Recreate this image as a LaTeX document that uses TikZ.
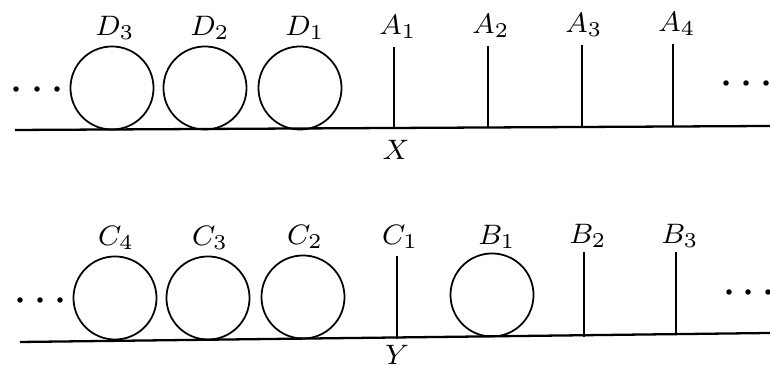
\documentclass[tikz,border=0pt]{standalone}
\begin{document}
\begin{tikzpicture}[x=0.01cm,y=-0.01cm,
  ball/.style={circle,draw,line width=0.5pt,minimum size=0.83cm,inner sep=0pt},
  stick/.style={line width=0.65pt},
  floor/.style={line width=0.65pt},
  lbl/.style={font=\fontsize{8}{9}\selectfont,inner sep=0pt},
  dot/.style={circle,fill,inner sep=0pt,minimum size=0.055cm}]
\useasboundingbox (0,0) rectangle (770,365);
% ---------- top row ----------
\coordinate (xl) at (15,130);
\coordinate (xr) at (770,126);
\draw[floor] (xl) -- (xr);
\node[ball] (d3) at (112,88) {};
\node[ball] (d2) at (205,88) {};
\node[ball] (d1) at (300,88) {};
\node[lbl] (ld3) at (115,28) {$D_3$};
\node[lbl] (ld2) at (210,28) {$D_2$};
\node[lbl] (ld1) at (305,28) {$D_1$};
\coordinate (a1t) at (394,47); \coordinate (a1b) at (394,129);
\coordinate (a2t) at (488,46); \coordinate (a2b) at (488,128);
\coordinate (a3t) at (582,45); \coordinate (a3b) at (582,127);
\coordinate (a4t) at (673,44); \coordinate (a4b) at (673,126);
\draw[stick] (a1t) -- (a1b);
\draw[stick] (a2t) -- (a2b);
\draw[stick] (a3t) -- (a3b);
\draw[stick] (a4t) -- (a4b);
\node[lbl] (la1) at (398,27) {$A_1$};
\node[lbl] (la2) at (491,26) {$A_2$};
\node[lbl] (la3) at (584,25) {$A_3$};
\node[lbl] (la4) at (677,24) {$A_4$};
\node[lbl] (lx) at (396,150) {$X$};
\node[dot] (tl1) at (16,89) {};
\node[dot] (tl2) at (37,89) {};
\node[dot] (tl3) at (57,89) {};
\node[dot] (tr1) at (726,83) {};
\node[dot] (tr2) at (746,83) {};
\node[dot] (tr3) at (766,83) {};
% ---------- bottom row ----------
\coordinate (yl) at (20,342);
\coordinate (yr) at (770,333);
\draw[floor] (yl) -- (yr);
\node[ball] (c4) at (115,298) {};
\node[ball] (c3) at (208,298) {};
\node[ball] (c2) at (303,297) {};
\node[ball] (b1) at (492,295) {};
\node[lbl] (lc4) at (116,238) {$C_4$};
\node[lbl] (lc3) at (210,238) {$C_3$};
\node[lbl] (lc2) at (305,237) {$C_2$};
\coordinate (c1t) at (397,256); \coordinate (c1b) at (397,339);
\coordinate (b2t) at (584,252); \coordinate (b2b) at (584,337);
\coordinate (b3t) at (676,252); \coordinate (b3b) at (676,335);
\draw[stick] (c1t) -- (c1b);
\draw[stick] (b2t) -- (b2b);
\draw[stick] (b3t) -- (b3b);
\node[lbl] (lc1) at (400,237) {$C_1$};
\node[lbl] (lb1) at (497,237) {$B_1$};
\node[lbl] (lb2) at (588,236) {$B_2$};
\node[lbl] (lb3) at (680,236) {$B_3$};
\node[lbl] (ly) at (397,355) {$Y$};
\node[dot] (bl1) at (20,300) {};
\node[dot] (bl2) at (40,300) {};
\node[dot] (bl3) at (60,300) {};
\node[dot] (br1) at (729,292) {};
\node[dot] (br2) at (748,292) {};
\node[dot] (br3) at (768,292) {};
\end{tikzpicture}
\end{document}
